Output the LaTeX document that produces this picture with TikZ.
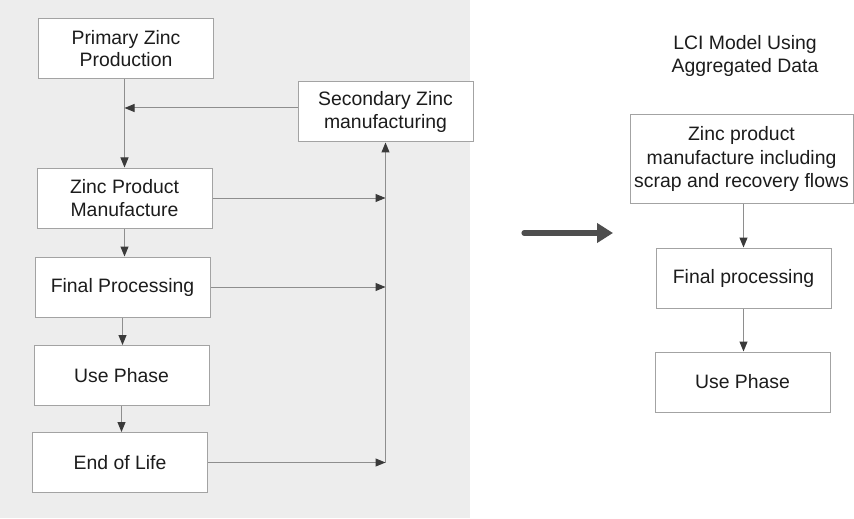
\documentclass[tikz,border=0pt]{standalone}
\usepackage{fontspec}
\setmainfont{Liberation Sans}
\usetikzlibrary{arrows.meta, positioning}
\definecolor{panel}{HTML}{EDEDED}
\definecolor{edge}{HTML}{A3A3A3}
\definecolor{flow}{HTML}{8E8E8E}
\definecolor{tipc}{HTML}{3A3A3A}
\definecolor{ink}{HTML}{1C1C1C}
\definecolor{bigar}{HTML}{4E4E4E}
\tikzset{
  stage/.style={draw=edge, fill=white, line width=0.5pt, align=center,
                inner sep=2pt, minimum width=87.5pt, minimum height=30pt,
                font=\fontsize{9.7}{11.2}\selectfont, text=ink},
  wide/.style={stage, minimum width=111.5pt, minimum height=44pt,
               font=\fontsize{9.7}{11.7}\selectfont},
  lbl/.style={align=center, inner sep=0pt, font=\fontsize{9.7}{11.2}\selectfont, text=ink},
  fl/.style={-{Triangle[length=5pt, width=4pt, color=tipc]}, draw=flow, line width=0.5pt},
  big/.style={-{Triangle[length=8pt, width=9.5pt]}, draw=bigar, line width=2.6pt, line cap=round},
}

\begin{document}
\begin{tikzpicture}[x=0.5pt, y=-0.5pt]
  \useasboundingbox (0,0) rectangle (854,518);
  \fill[panel] (0,0) rectangle (470,518);

  % detailed model
  \node[stage] (prim) at (126,48.5) {Primary Zinc\\Production};
  \node[stage] (sec)  at (385.5,112) {Secondary Zinc\\manufacturing};
  \node[stage] (zpm)  at (124.5,198) {Zinc Product\\Manufacture};
  \node[stage] (fin)  at (122.5,287) {Final Processing};
  \node[stage] (use)  at (121.5,375.5) {Use Phase};
  \node[stage] (eol)  at (120,462.5) {End of Life};

  \draw[fl] (zpm.north |- prim.south) -- (zpm.north);
  \draw[fl] ([yshift=2pt]sec.west) -- ([yshift=2pt]sec.west -| zpm.north);
  \draw[fl] (zpm.south) -- (zpm.south |- fin.north);
  \draw[fl] (fin.south) -- (use.north -| fin.south);
  \draw[fl] (use.south) -- (eol.north -| use.south);

  \draw[fl] (zpm.east) -- (zpm.east -| sec.south);
  \draw[fl] (fin.east) -- (fin.east -| sec.south);
  \draw[fl] (eol.east) -- (eol.east -| sec.south);
  \draw[fl] (eol.east -| sec.south) -- (sec.south);

  % aggregated model
  \coordinate (from) at (524,233);
  \coordinate (to)   at (613,233);
  \draw[big] (from) -- (to);

  \node[lbl] (title) at (745,56) {LCI Model Using\\Aggregated Data};
  \node[wide]  (zrec) at (741.5,159) {Zinc product\\manufacture including\\scrap and recovery flows};
  \node[stage] (rfin) at (743.5,278) {Final processing};
  \node[stage] (ruse) at (742.5,382) {Use Phase};

  \draw[fl] (rfin.north |- zrec.south) -- (rfin.north);
  \draw[fl] (rfin.south) -- (ruse.north -| rfin.south);
\end{tikzpicture}
\end{document}
